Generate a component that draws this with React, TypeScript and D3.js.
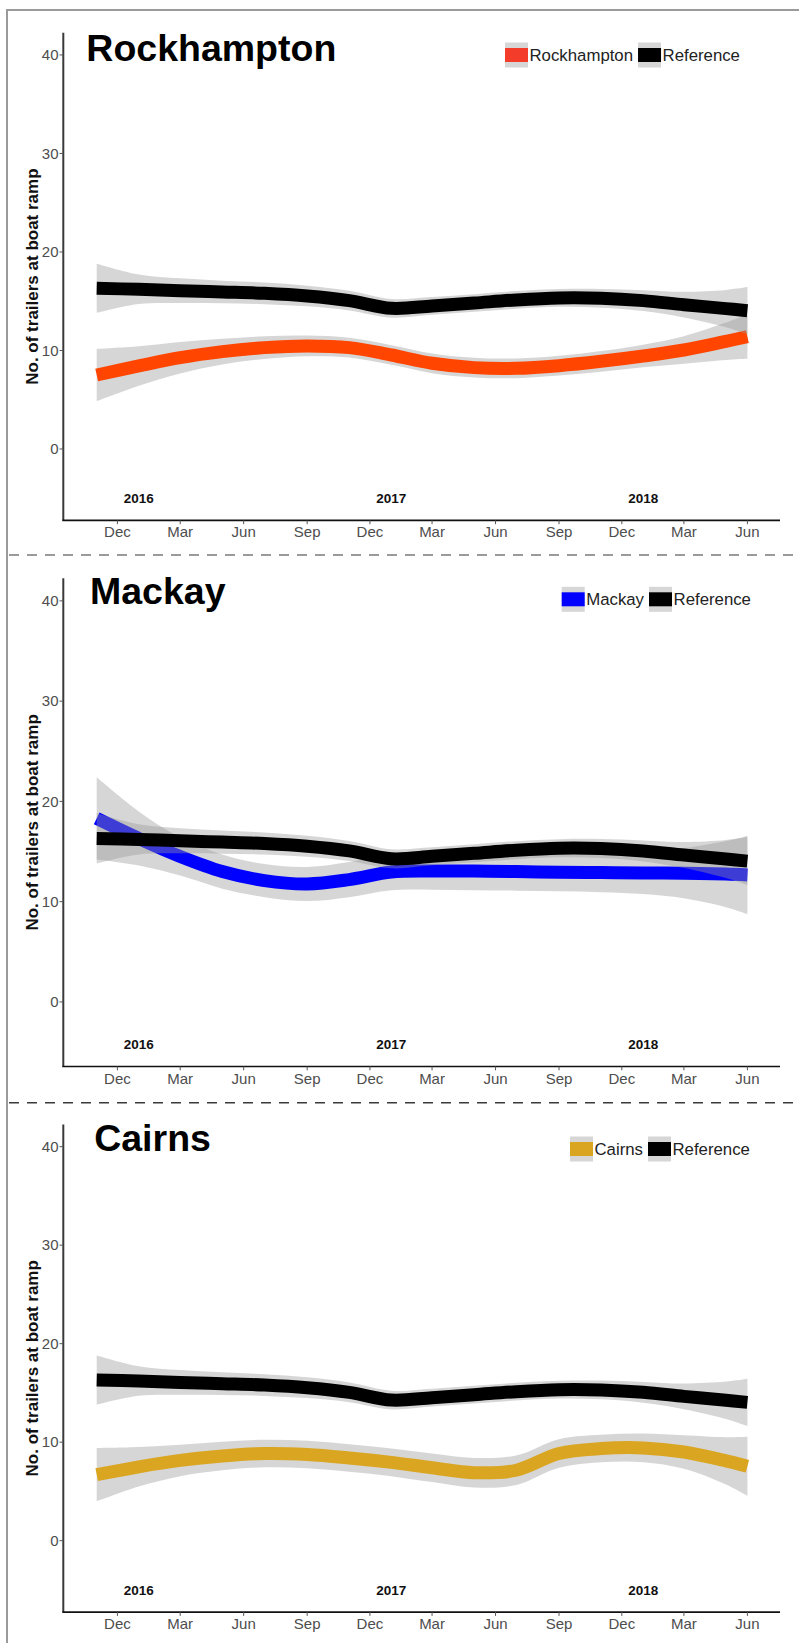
import React from "react";
import * as d3 from "d3";

// ---- data ----
const sampleDates = [
  "2015-11-01", "2016-01-01", "2016-03-01", "2016-05-01", "2016-07-01", "2016-09-01",
  "2016-11-01", "2017-01-01", "2017-03-01", "2017-05-01", "2017-07-01", "2017-09-01",
  "2017-11-01", "2018-01-01", "2018-03-01", "2018-05-01", "2018-06-01",
];
const referenceFit = [16.31, 16.21, 16.07, 15.94, 15.8, 15.53, 15.06, 14.28, 14.52, 14.82, 15.13, 15.33, 15.3, 15.06, 14.65, 14.25, 14.04];
const referenceSe = [2.5, 1.5, 1.25, 1.15, 1.1, 1.05, 1.0, 0.95, 0.9, 0.9, 0.9, 0.9, 0.95, 1.05, 1.3, 1.9, 2.4];
const rockhamptonFit = [7.51, 8.43, 9.27, 9.88, 10.29, 10.46, 10.29, 9.54, 8.7, 8.26, 8.19, 8.46, 8.9, 9.44, 10.05, 10.93, 11.4];
const rockhamptonSe = [2.65, 2.0, 1.6, 1.3, 1.15, 1.05, 1.0, 1.0, 1.0, 1.0, 1.0, 1.0, 1.05, 1.15, 1.4, 1.9, 2.25];
const mackayFit = [18.3, 16.3, 14.5, 13.0, 12.1, 11.76, 12.2, 12.95, 13.05, 13.05, 13.0, 12.93, 12.9, 12.87, 12.84, 12.75, 12.66];
const mackaySe = [4.1, 2.7, 1.9, 1.7, 1.65, 1.7, 1.75, 1.8, 1.85, 1.9, 1.9, 1.9, 1.95, 2.1, 2.5, 3.3, 3.9];
const cairnsFit = [6.7, 7.5, 8.15, 8.6, 8.85, 8.75, 8.4, 7.95, 7.4, 6.9, 7.15, 8.85, 9.35, 9.42, 9.0, 8.1, 7.55];
const cairnsSe = [2.7, 2.0, 1.6, 1.45, 1.4, 1.4, 1.4, 1.4, 1.45, 1.5, 1.5, 1.45, 1.4, 1.45, 1.7, 2.4, 3.0];

const monthTickDates = [
  "2015-12-01", "2016-03-01", "2016-06-01", "2016-09-01", "2016-12-01", "2017-03-01",
  "2017-06-01", "2017-09-01", "2017-12-01", "2018-03-01", "2018-06-01",
];
const monthTickLabels = ["Dec", "Mar", "Jun", "Sep", "Dec", "Mar", "Jun", "Sep", "Dec", "Mar", "Jun"];
const yearDates = ["2016-01-01", "2017-01-01", "2018-01-01"];
const yearLabels = ["2016", "2017", "2018"];
const yTicks = [0, 10, 20, 30, 40];
const xDomain = ["2015-11-01", "2018-06-01"];
const yAxisTitle = "No. of trailers at boat ramp";
const referenceName = "Reference";

// ---- layout ----
const W = 799;
const H = 1643;
const FONT = "'Liberation Sans', Arial, Helvetica, sans-serif";
const parse = d3.utcParse("%Y-%m-%d");

const panels = [
  { name: "Rockhampton", color: "#FF4500", keyColor: "#F33C2A", fit: rockhamptonFit, se: rockhamptonSe,
    yMin: -7.25, yMax: 42.25, top: 32.8, bottom: 520.4, titleX: 86.3, titleY: 61, legendX: 505, legendY: 55 },
  { name: "Mackay", color: "#0000FF", keyColor: "#0000FF", fit: mackayFit, se: mackaySe,
    yMin: -6.44, yMax: 42.25, top: 578.3, bottom: 1066.5, titleX: 90, titleY: 604, legendX: 561.7, legendY: 599.3 },
  { name: "Cairns", color: "#DAA520", keyColor: "#DAA520", fit: cairnsFit, se: cairnsSe,
    yMin: -7.25, yMax: 42.25, top: 1124.5, bottom: 1612.1, titleX: 94.2, titleY: 1151, legendX: 570, legendY: 1149 },
];

const xScale = d3.scaleUtc()
  .domain(xDomain.map((d) => parse(d) as Date))
  .range([96.7, 747.4]);

const AXIS_X = 63.3;
const AXIS_RIGHT = 780;

function measure(text: string, font: string): number {
  const ctx = document.createElement("canvas").getContext("2d");
  if (!ctx) return text.length * 8;
  ctx.font = font;
  return ctx.measureText(text).width;
}

function Panel({ p }: { p: typeof panels[number] }) {
  const yScale = d3.scaleLinear().domain([p.yMin, p.yMax]).range([p.bottom, p.top]);
  const yBottom = p.bottom, yTop = p.top;

  const mk = (fit: number[], se: number[]) =>
    sampleDates.map((d, i) => ({ x: parse(d) as Date, y: fit[i], lo: fit[i] - se[i], hi: fit[i] + se[i] }));
  const regionPts = mk(p.fit, p.se);
  const refPts = mk(referenceFit, referenceSe);
  const curve = d3.curveCatmullRom.alpha(0.5);
  const line = d3.line<any>().x((d) => xScale(d.x)).y((d) => yScale(d.y)).curve(curve);
  const area = d3.area<any>().x((d) => xScale(d.x)).y0((d) => yScale(d.lo)).y1((d) => yScale(d.hi)).curve(curve);

  const legendSize = 16.8;
  const legendFont = `${legendSize}px ${FONT}`;
  const keyW = 23, keyH = 25, bandH = 14;
  const k1x = p.legendX;
  const t1x = k1x + keyW + 1.5;
  const t1w = measure(p.name, legendFont);
  const k2x = t1x + t1w + 5;
  const t2x = k2x + keyW + 1.5;

  return (
    <g>
      {/* smooths */}
      <path d={area(regionPts) || ""} fill="#999999" fillOpacity={0.4} />
      <path d={line(regionPts) || ""} fill="none" stroke={p.color} strokeWidth={13} />
      <path d={area(refPts) || ""} fill="#999999" fillOpacity={0.4} />
      <path d={line(refPts) || ""} fill="none" stroke="#000" strokeWidth={13} />

      {/* axes */}
      <line x1={AXIS_X} x2={AXIS_X} y1={yTop} y2={yBottom} stroke="#3a3a3a" strokeWidth={2} />
      <line x1={AXIS_X - 1} x2={AXIS_RIGHT} y1={yBottom} y2={yBottom} stroke="#111" strokeWidth={1.6} />
      {yTicks.map((t) => (
        <g key={t}>
          <line x1={AXIS_X - 3.8} x2={AXIS_X} y1={yScale(t)} y2={yScale(t)} stroke="#555" strokeWidth={1} />
          <text x={AXIS_X - 4.8} y={yScale(t) + 5.3} textAnchor="end" fontSize={15} fill="#4d4d4d" fontFamily={FONT}>{t}</text>
        </g>
      ))}
      {monthTickDates.map((d, i) => {
        const x = xScale(parse(d) as Date);
        return (
          <g key={d}>
            <line x1={x} x2={x} y1={yBottom} y2={yBottom + 3.8} stroke="#555" strokeWidth={1} />
            <text x={x} y={yBottom + 17} textAnchor="middle" fontSize={15} fill="#4d4d4d" fontFamily={FONT}>{monthTickLabels[i]}</text>
          </g>
        );
      })}
      {yearDates.map((d, i) => (
        <text key={d} x={xScale(parse(d) as Date)} y={yBottom - 17.4} textAnchor="middle" fontSize={13.5} fontWeight="bold" fill="#111" fontFamily={FONT}>{yearLabels[i]}</text>
      ))}
      <text
        transform={`translate(37.7, ${(yTop + yBottom) / 2}) rotate(-90)`}
        textAnchor="middle" fontSize={17} fontWeight="bold" fill="#111" fontFamily={FONT}
      >{yAxisTitle}</text>

      {/* title */}
      <text x={p.titleX} y={p.titleY} fontSize={37.5} fontWeight="bold" fill="#000" fontFamily={FONT}>{p.name}</text>

      {/* legend */}
      <rect x={k1x} y={p.legendY - keyH / 2} width={keyW} height={keyH} fill="#d6d6d6" />
      <rect x={k1x} y={p.legendY - bandH / 2} width={keyW} height={bandH} fill={p.keyColor} />
      <text x={t1x} y={p.legendY + 6} fontSize={legendSize} fill="#222" fontFamily={FONT}>{p.name}</text>
      <rect x={k2x} y={p.legendY - keyH / 2} width={keyW} height={keyH} fill="#d6d6d6" />
      <rect x={k2x} y={p.legendY - bandH / 2} width={keyW} height={bandH} fill="#000" />
      <text x={t2x} y={p.legendY + 6} fontSize={legendSize} fill="#222" fontFamily={FONT}>{referenceName}</text>
    </g>
  );
}

export default function App() {
  return (
    <div style={{ position: "absolute", left: 0, top: 0, background: "#fff" }}>
      <svg width={W} height={H} viewBox={`0 0 ${W} ${H}`} style={{ display: "block" }}>
        <rect x={0} y={0} width={W} height={H} fill="#fff" />
        <path d={`M7,${H} V10 H${W}`} fill="none" stroke="#9a9a9a" strokeWidth={2} />
        <line x1={9} x2={W} y1={555} y2={555} stroke="#9a9a9a" strokeWidth={2} strokeDasharray="10 8" />
        <line x1={9} x2={W} y1={1102.7} y2={1102.7} stroke="#3a3a3a" strokeWidth={1.5} strokeDasharray="10 8" />
        {panels.map((p) => (
          <Panel key={p.name} p={p} />
        ))}
      </svg>
    </div>
  );
}
